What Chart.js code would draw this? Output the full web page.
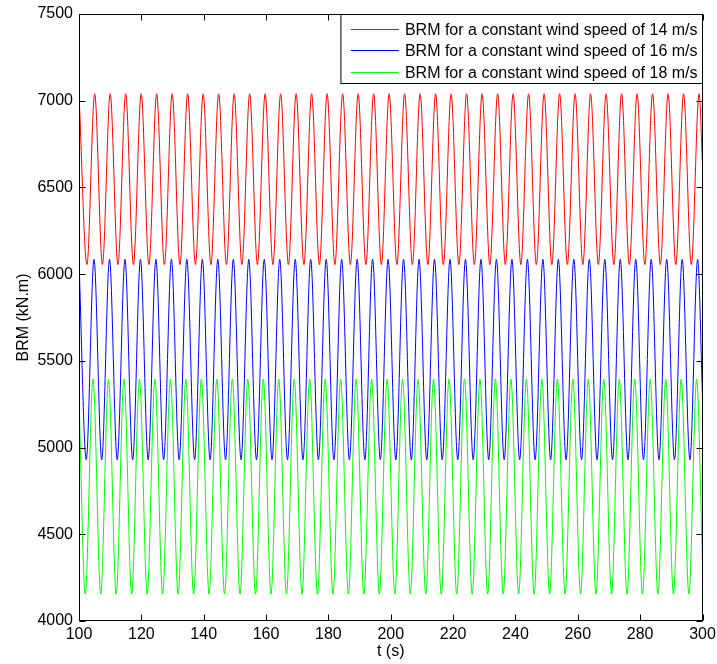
<!DOCTYPE html>
<html>
<head>
<meta charset="utf-8">
<script src="https://cdn.jsdelivr.net/npm/chart.js@4.4.0/dist/chart.umd.min.js"></script>
<style>
  html, body { margin: 0; padding: 0; background: #fff; }
  canvas { display: block; }
</style>
</head>
<body>
<canvas id="myChart" width="717" height="664"></canvas>
<script>
// peaks and troughs (t in s, BRM in kN.m)
const seriesLabels = [
  'BRM for a constant wind speed of 14 m/s',
  'BRM for a constant wind speed of 16 m/s',
  'BRM for a constant wind speed of 18 m/s'
];
const seriesColors = ['#ff0000', '#0000ff', '#00ff00'];

const redT = [100, 102.55, 105.03, 107.52, 110.00, 112.49, 114.97, 117.46, 119.94, 122.43, 124.91, 127.40,
  129.89, 132.37, 134.86, 137.34, 139.83, 142.31, 144.80, 147.29, 149.77, 152.26, 154.74, 157.23,
  159.71, 162.20, 164.68, 167.17, 169.65, 172.14, 174.62, 177.11, 179.59, 182.08, 184.57, 187.05,
  189.54, 192.02, 194.51, 196.99, 199.48, 201.97, 204.45, 206.94, 209.42, 211.91, 214.39, 216.88,
  219.36, 221.85, 224.33, 226.82, 229.30, 231.79, 234.28, 236.76, 239.25, 241.73, 244.22, 246.70,
  249.19, 251.67, 254.16, 256.65, 259.13, 261.62, 264.10, 266.59, 269.07, 271.56, 274.04, 276.53,
  279.01, 281.50, 283.99, 286.47, 288.96, 291.44, 293.93, 296.41, 298.90, 300];
const redV = [7040, 6055, 7040, 6055, 7040, 6055, 7040, 6055, 7040, 6055, 7040, 6055,
  7040, 6055, 7040, 6055, 7040, 6055, 7040, 6055, 7040, 6055, 7040, 6055,
  7040, 6055, 7040, 6055, 7040, 6055, 7040, 6055, 7040, 6055, 7040, 6055,
  7040, 6055, 7040, 6055, 7040, 6055, 7040, 6055, 7040, 6055, 7040, 6055,
  7040, 6055, 7040, 6055, 7040, 6055, 7040, 6055, 7040, 6055, 7040, 6055,
  7040, 6055, 7040, 6055, 7040, 6055, 7040, 6055, 7040, 6055, 7040, 6055,
  7040, 6055, 7040, 6055, 7040, 6055, 7040, 6055, 7040, 6630];

const blueT = [100, 102.33, 104.81, 107.29, 109.78, 112.26, 114.74, 117.22, 119.71, 122.19, 124.67, 127.15,
  129.64, 132.12, 134.60, 137.08, 139.57, 142.05, 144.53, 147.01, 149.50, 151.98, 154.46, 156.94,
  159.43, 161.91, 164.39, 166.87, 169.36, 171.84, 174.32, 176.80, 179.29, 181.77, 184.25, 186.73,
  189.22, 191.70, 194.18, 196.66, 199.15, 201.63, 204.11, 206.59, 209.08, 211.56, 214.04, 216.52,
  219.01, 221.49, 223.97, 226.45, 228.94, 231.42, 233.90, 236.38, 238.87, 241.35, 243.83, 246.31,
  248.80, 251.28, 253.76, 256.24, 258.73, 261.21, 263.69, 266.17, 268.66, 271.14, 273.62, 276.10,
  278.59, 281.07, 283.55, 286.03, 288.52, 291.00, 293.48, 295.96, 298.45, 300];
const blueV = [6075, 4930, 6085, 4930, 6085, 4930, 6085, 4930, 6085, 4930, 6085, 4930,
  6085, 4930, 6085, 4930, 6085, 4930, 6085, 4930, 6085, 4930, 6085, 4930,
  6085, 4930, 6085, 4930, 6085, 4930, 6085, 4930, 6085, 4930, 6085, 4930,
  6085, 4930, 6085, 4930, 6085, 4930, 6085, 4930, 6085, 4930, 6085, 4930,
  6085, 4930, 6085, 4930, 6085, 4930, 6085, 4930, 6085, 4930, 6085, 4930,
  6085, 4930, 6085, 4930, 6085, 4930, 6085, 4930, 6085, 4930, 6085, 4930,
  6085, 4930, 6085, 4930, 6085, 4930, 6085, 4930, 6085, 5290];

const greenT = [100, 102.01, 104.49, 106.97, 109.46, 111.94, 114.42, 116.90, 119.39, 121.87, 124.35, 126.83,
  129.32, 131.80, 134.28, 136.76, 139.25, 141.73, 144.21, 146.69, 149.18, 151.66, 154.14, 156.62,
  159.11, 161.59, 164.07, 166.55, 169.04, 171.52, 174.00, 176.48, 178.97, 181.45, 183.93, 186.41,
  188.90, 191.38, 193.86, 196.34, 198.83, 201.31, 203.79, 206.27, 208.76, 211.24, 213.72, 216.20,
  218.69, 221.17, 223.65, 226.13, 228.62, 231.10, 233.58, 236.06, 238.55, 241.03, 243.51, 245.99,
  248.48, 250.96, 253.44, 255.92, 258.41, 260.89, 263.37, 265.85, 268.34, 270.82, 273.30, 275.78,
  278.27, 280.75, 283.23, 285.71, 288.20, 290.68, 293.16, 295.64, 298.13, 300];
const greenV = [5290, 4155, 5394, 4155, 5394, 4155, 5394, 4155, 5394, 4155, 5394, 4155,
  5394, 4155, 5394, 4155, 5394, 4155, 5394, 4155, 5394, 4155, 5394, 4155,
  5394, 4155, 5394, 4155, 5394, 4155, 5394, 4155, 5394, 4155, 5394, 4155,
  5394, 4155, 5394, 4155, 5394, 4155, 5394, 4155, 5394, 4155, 5394, 4155,
  5394, 4155, 5394, 4155, 5394, 4155, 5394, 4155, 5394, 4155, 5394, 4155,
  5394, 4155, 5394, 4155, 5394, 4155, 5394, 4155, 5394, 4155, 5394, 4155,
  5394, 4155, 5394, 4155, 5394, 4155, 5394, 4155, 5394, 4330];

const xTicks = [100, 120, 140, 160, 180, 200, 220, 240, 260, 280, 300];
const yTicks = [4000, 4500, 5000, 5500, 6000, 6500, 7000, 7500];

const FONT = "'Liberation Sans', Arial, sans-serif";

const toPoints = (ts, vs) => ts.map((t, i) => ({ x: t, y: vs[i] }));

// MATLAB-like box, inward ticks and legend in the top right corner
const matlabFrame = {
  id: 'matlabFrame',
  afterDraw(chart) {
    const { ctx, chartArea: a, scales: { x, y } } = chart;
    const L = Math.round(a.left) + 0.5, R = Math.round(a.right) - 0.5;
    const T = Math.round(a.top) + 0.5, B = Math.round(a.bottom) - 0.5;
    const tl = 6;
    ctx.save();
    ctx.strokeStyle = '#000';
    ctx.lineWidth = 1;
    ctx.beginPath();
    x.ticks.forEach(t => {
      const px = Math.round(x.getPixelForValue(t.value)) + 0.5;
      ctx.moveTo(px, B); ctx.lineTo(px, B - tl);
      ctx.moveTo(px, T); ctx.lineTo(px, T + tl);
    });
    y.ticks.forEach(t => {
      const py = Math.round(y.getPixelForValue(t.value)) + 0.5;
      ctx.moveTo(L, py); ctx.lineTo(L + tl, py);
      ctx.moveTo(R, py); ctx.lineTo(R - tl, py);
    });
    ctx.stroke();
    ctx.strokeRect(L, T, R - L, B - T);

    // legend
    ctx.font = '16px ' + FONT;
    const textW = Math.max(...seriesLabels.map(s => ctx.measureText(s).width));
    const boxW = 10 + 48 + 6 + textW + 5;
    const boxH = 69;
    const bx = R - boxW;
    ctx.fillStyle = '#fff';
    ctx.fillRect(bx, T, boxW, boxH);
    ctx.strokeRect(bx, T, boxW, boxH);
    ctx.textBaseline = 'middle';
    ctx.textAlign = 'left';
    chart.data.datasets.forEach((ds, i) => {
      const ry = Math.round(T + 14 + i * 21.5) + 0.5;
      ctx.strokeStyle = ds.borderColor;
      ctx.beginPath();
      ctx.moveTo(bx + 10, ry);
      ctx.lineTo(bx + 58, ry);
      ctx.stroke();
      ctx.fillStyle = '#000';
      ctx.fillText(ds.label, bx + 64, ry + 1);
    });
    ctx.restore();
  }
};

const ctx = document.getElementById('myChart');

new Chart(ctx, {
  type: 'line',
  data: {
    datasets: [
      { label: seriesLabels[0], data: toPoints(redT, redV), borderColor: seriesColors[0], order: 2 },
      { label: seriesLabels[1], data: toPoints(blueT, blueV), borderColor: seriesColors[1], order: 1 },
      { label: seriesLabels[2], data: toPoints(greenT, greenV), borderColor: seriesColors[2], order: 0 }
    ]
  },
  options: {
    responsive: false,
    animation: false,
    events: [],
    layout: { padding: { left: 0, top: 14, right: 14.5, bottom: 0 } },
    elements: {
      line: { borderWidth: 1, cubicInterpolationMode: 'monotone', fill: false },
      point: { radius: 0 }
    },
    plugins: {
      legend: { display: false },
      tooltip: { enabled: false }
    },
    scales: {
      x: {
        type: 'linear',
        min: 100,
        max: 300,
        afterBuildTicks: s => { s.ticks = xTicks.map(v => ({ value: v })); },
        afterFit: s => { s.height = 43; s.paddingLeft = 0; s.paddingRight = 0; },
        grid: { display: false, drawTicks: false },
        border: { display: false },
        ticks: { color: '#000', padding: 4, maxRotation: 0, callback: v => String(v), font: { family: FONT, size: 16 } },
        title: {
          display: true,
          text: 't (s)',
          color: '#000',
          padding: { top: 0, bottom: 3 },
          font: { family: FONT, size: 16 }
        }
      },
      y: {
        type: 'linear',
        min: 4000,
        max: 7500,
        afterBuildTicks: s => { s.ticks = yTicks.map(v => ({ value: v })); },
        afterFit: s => { s.width = 79; s.paddingTop = 0; s.paddingBottom = 0; },
        grid: { display: false, drawTicks: false },
        border: { display: false },
        ticks: { color: '#000', padding: 6, callback: v => String(v), font: { family: FONT, size: 16 } },
        title: {
          display: true,
          text: 'BRM (kN.m)',
          color: '#000',
          padding: { top: 14, bottom: 0 },
          font: { family: FONT, size: 16 }
        }
      }
    }
  },
  plugins: [matlabFrame]
});
</script>
</body>
</html>
